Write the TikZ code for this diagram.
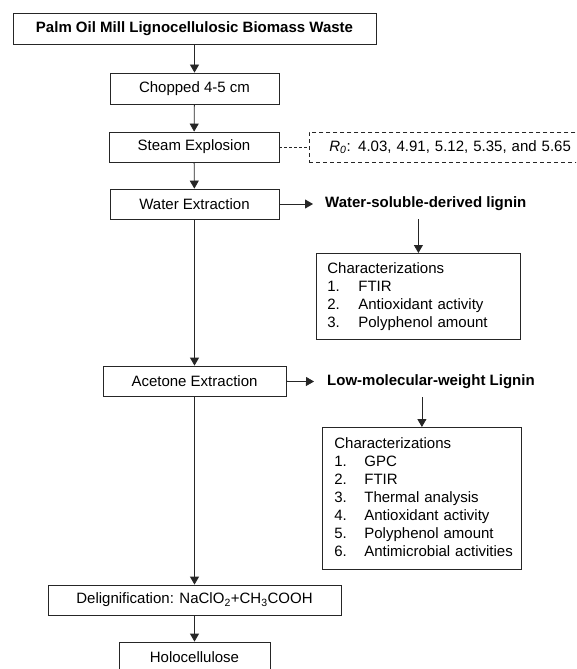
\documentclass[tikz,border=0pt]{standalone}
\usepackage{fontspec}
\setmainfont{Liberation Sans}
\usetikzlibrary{arrows.meta}
\begin{document}
\begin{tikzpicture}[x=1pt,y=-1pt,
  every node/.style={font=\fontsize{15}{18}\selectfont, text=black},
  box/.style={draw=black!85, line width=0.8pt, inner sep=0pt, align=center},
  charbox/.style={draw=black!85, line width=0.8pt, inner xsep=11pt, inner ysep=0pt, align=left, anchor=north west},
  flow/.style={draw=black!85, line width=0.8pt, -{Triangle[length=8pt,width=9pt]}},
  label/.style={font=\fontsize{15}{18}\selectfont\bfseries, anchor=west, inner ysep=8pt}
]
\useasboundingbox (0,0) rectangle (576,669);
\clip (0,0) rectangle (576,669);

\node[box, minimum width=363pt, minimum height=31pt, font=\fontsize{15}{18}\selectfont\bfseries] (top) at (194.5,28.5) {Palm Oil Mill Lignocellulosic Biomass Waste};
\node[box, minimum width=169pt, minimum height=31pt] (chop) at (194.5,88.5) {Chopped 4-5 cm};
\node[box, minimum width=170pt, minimum height=30pt] (steam) at (194,147) {Steam Explosion};
\node[box, dashed, dash pattern=on 4pt off 3pt, anchor=west, align=left, text width=260pt, inner xsep=20pt, minimum height=30pt] (r0) at (309,147) {\textit{R\textsubscript{0}}: 4.03, 4.91, 5.12, 5.35, and 5.65};
\node[box, minimum width=169pt, minimum height=30pt] (water) at (194.5,204) {Water Extraction};
\node[label, inner xsep=12pt] (wsdl) at (313,204) {Water-soluble-derived lignin};
\node[charbox, text width=182pt, minimum height=86pt] (char1) at (316,253) {%
\begin{tabular}{@{}p{31pt}@{}l@{}}
\multicolumn{2}{@{}l@{}}{Characterizations}\\
1. & FTIR\\
2. & Antioxidant activity\\
3. & Polyphenol amount
\end{tabular}};
\node[box, minimum width=183pt, minimum height=30pt] (acet) at (194.5,381) {Acetone Extraction};
\node[label, inner xsep=13pt] (lmwl) at (314,382) {Low-molecular-weight Lignin};
\node[charbox, inner xsep=12pt, text width=175pt, minimum height=142pt] (char2) at (322,427) {%
\begin{tabular}{@{}p{30pt}@{}l@{}}
\multicolumn{2}{@{}l@{}}{Characterizations}\\
1. & GPC\\
2. & FTIR\\
3. & Thermal analysis\\
4. & Antioxidant activity\\
5. & Polyphenol amount\\
6. & Antimicrobial activities
\end{tabular}};
\node[box, minimum width=293pt, minimum height=30pt] (delig) at (194.5,600) {Delignification: NaClO\textsubscript{2}+CH\textsubscript{3}COOH};
\node[box, minimum width=151pt, minimum height=30pt] (holo) at (194.5,657) {Holocellulose};

\draw[flow] (top) -- (chop);
\draw[flow] (chop) -- (steam);
\draw[flow] (steam) -- (water);
\draw[draw=black!85, line width=0.8pt, dashed, dash pattern=on 3pt off 2pt] (steam) -- (r0);
\draw[flow] (water) -- (wsdl);
\draw[flow] (char1.north |- wsdl.south) -- (char1.north);
\draw[flow] (water) -- (acet);
\draw[flow] (acet) -- (lmwl);
\draw[flow] (char2.north |- lmwl.south) -- (char2.north);
\draw[flow] (acet) -- (delig);
\draw[flow] (delig) -- (holo);
\end{tikzpicture}
\end{document}
